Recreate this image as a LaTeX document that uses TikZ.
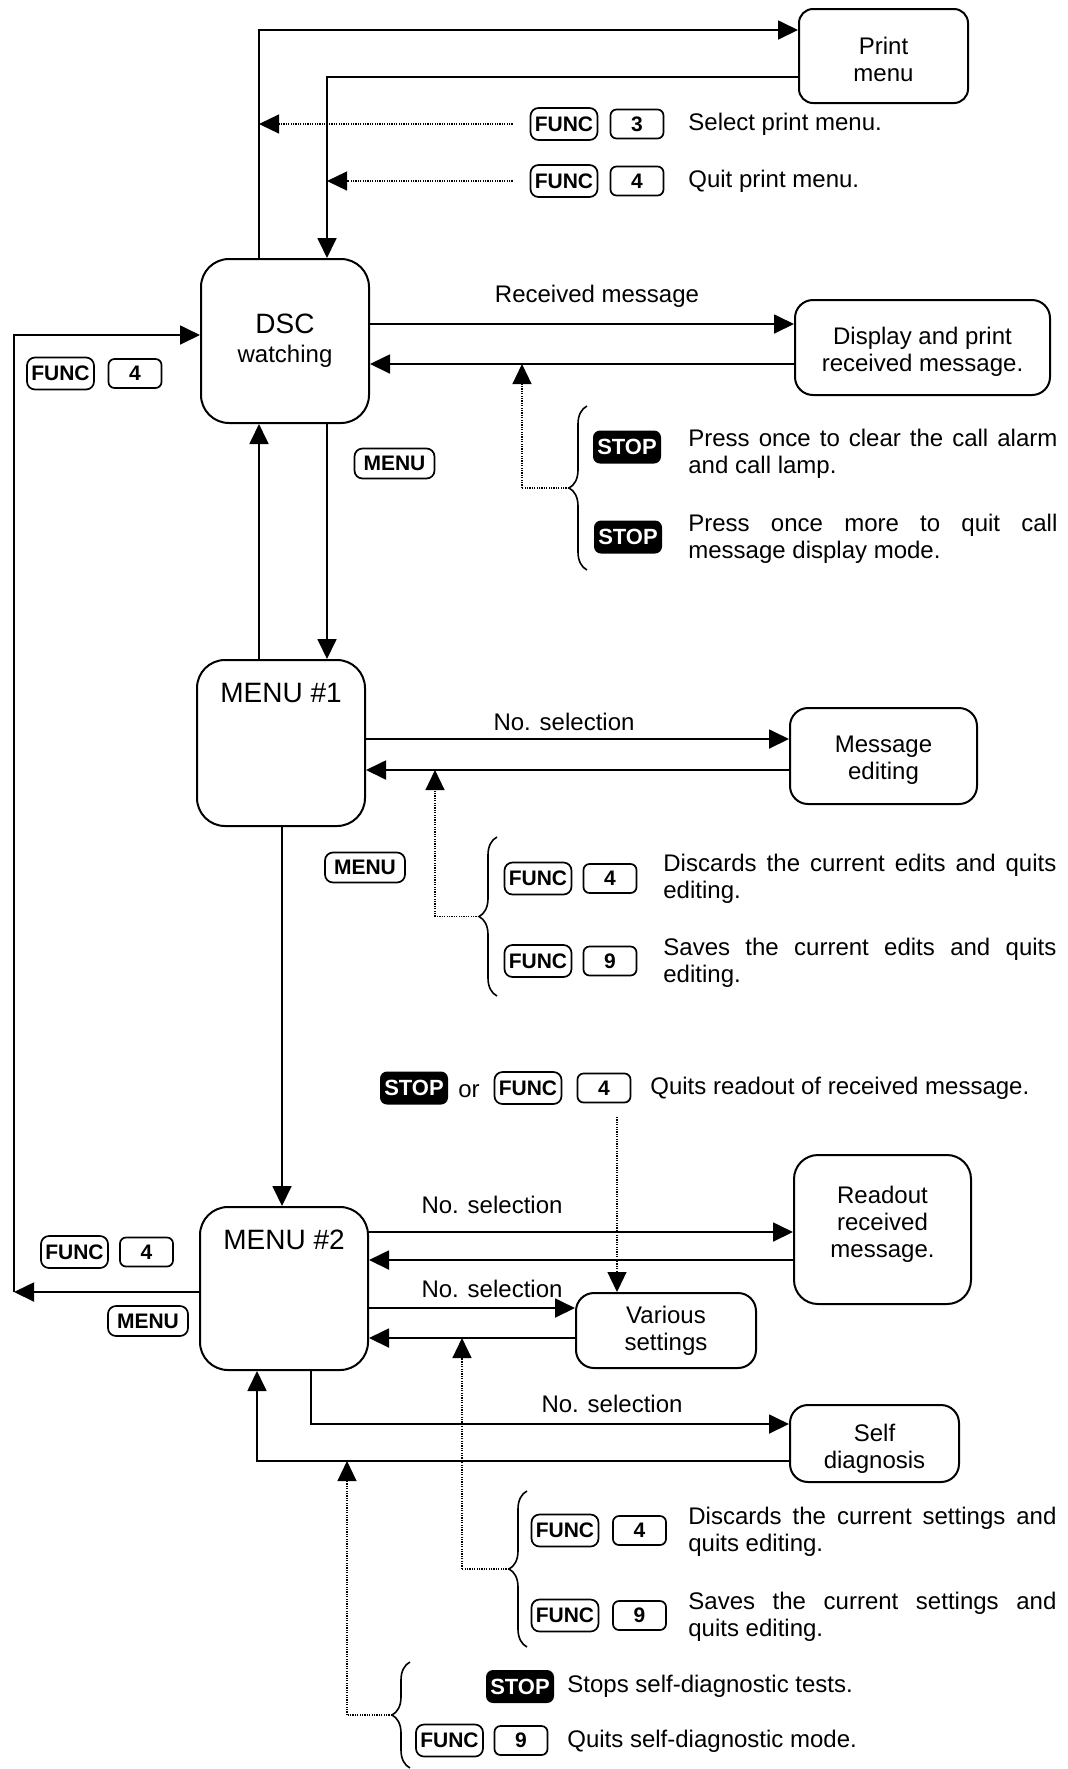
\documentclass[tikz,border=0pt]{standalone}
\usepackage{fontspec}
\setmainfont{Liberation Sans}
\usetikzlibrary{arrows.meta,decorations.pathreplacing}
\tikzset{
  box/.style={draw,line width=1pt,rounded corners=#1,inner sep=0pt,align=center},
  box/.default=8pt,
  txt/.style={inner sep=0pt},
  ctxt/.style={inner sep=0pt,align=center},
  ttl/.style={inner sep=0pt,font=\fontsize{14}{16}\selectfont},
  keybase/.style={draw,line width=0.85pt,rounded corners=3pt,inner sep=0pt,
     font=\fontsize{10.5}{10.5}\selectfont\bfseries,minimum height=15pt},
  funckey/.style={keybase,minimum width=33.5pt,minimum height=16pt,rounded corners=4pt},
  numkey/.style={keybase,minimum width=26.5pt,minimum height=14.5pt},
  menukey/.style={keybase,minimum width=40pt,minimum height=15pt,rounded corners=4pt},
  stopkey/.style={fill=black,text=white,rounded corners=3.5pt,inner sep=0pt,
     font=\fontsize{11}{11}\selectfont\bfseries,minimum width=34pt,minimum height=16.5pt},
  arr/.style={line width=0.9pt,-{Triangle[length=10pt,width=9.5pt]}},
  dotarr/.style={line width=0.6pt,dash pattern=on 0.6pt off 0.6pt,-{Triangle[length=10pt,width=9.5pt]}},
  dotln/.style={line width=0.6pt,dash pattern=on 0.6pt off 0.6pt},
  brc/.style={line width=0.8pt,decorate,decoration={brace,amplitude=9pt}},
}
\begin{document}
\begin{tikzpicture}[x=0.5pt,y=-0.5pt,font=\fontsize{12}{13.5}\selectfont]
\useasboundingbox (0,0) rectangle (1067,1769);

% ---------- main boxes ----------
\node[box=7pt,minimum width=84.5pt,minimum height=47pt] (print) at (883.5,56) {};
\node[ctxt] (printT) at ([yshift=-1.5pt]print.center) {Print\\menu};
\node[box=14pt,minimum width=84pt,minimum height=82pt] (dsc) at (285,341)
   {{\fontsize{14}{16}\selectfont DSC}\\[1pt]watching};
\node[box=9pt,minimum width=127.5pt,minimum height=47.5pt] (disp) at (922.5,347.5) {};
\node[ctxt] (dispT) at ([yshift=-2pt]disp.center) {Display and print\\received message.};
\node[box=14pt,minimum width=84pt,minimum height=83pt] (menu1) at (281,743) {};
\node[ttl] (t1) at ([yshift=-17pt]menu1.north) {MENU \#1};
\node[box=9pt,minimum width=93.5pt,minimum height=48pt] (msged) at (883.5,756) {};
\node[ctxt] (msgedT) at ([yshift=-2pt]msged.center) {Message\\editing};
\node[box=14pt,minimum width=84pt,minimum height=81.5pt] (menu2) at (284,1288.5) {};
\node[ttl] (t2) at ([yshift=-17pt]menu2.north) {MENU \#2};
\node[box=12pt,minimum width=88.5pt,minimum height=74.5pt] (readout) at (882.5,1229.5) {};
\node[ctxt] (readoutT) at ([yshift=2.5pt]readout.center) {Readout\\received\\message.};
\node[box=9pt,minimum width=90pt,minimum height=37.5pt] (various) at (666,1330.5) {Various\\settings};
\node[box=9pt,minimum width=84.5pt,minimum height=38.5pt] (selfd) at (874.5,1443.5) {};
\node[ctxt] (selfdT) at ([yshift=-2.5pt]selfd.center) {Self\\diagnosis};

% ---------- helper coordinates ----------
\coordinate (xA) at (259,0);
\coordinate (xB) at (327,0);
\coordinate (yTop) at (0,30);
\coordinate (yRet) at (0,77);

% ---------- print menu ----------
\draw[arr] (xA |- dsc.north) -- (xA |- yTop) -- (print.west |- yTop);
\draw[arr] (print.west |- yRet) -- (xB |- yRet) -- (xB |- dsc.north);

\node[funckey] (f3) at (564,124) {FUNC};
\node[numkey] (n3) at (637,124) {3};
\node[txt,anchor=west] (tsel) at (688,124) {Select print menu.};
\draw[dotarr] ([xshift=-8.5pt]f3.west) -- (xA |- f3.west);

\node[funckey] (f4a) at (564,181) {FUNC};
\node[numkey] (n4a) at (637,181) {4};
\node[txt,anchor=west] (tquit) at (688,181) {Quit print menu.};
\draw[dotarr] ([xshift=-8.5pt]f4a.west) -- (xB |- f4a.west);

% ---------- received message ----------
\coordinate (yRM) at (0,324);
\coordinate (yRMr) at (0,364);
\draw[arr] (dsc.east |- yRM) -- (disp.west |- yRM);
\node[txt] (lrm) at (597,296) {Received message};
\draw[arr] (disp.west |- yRMr) -- (dsc.east |- yRMr);

\draw[brc] (587,570) -- (587,406);
\coordinate (bt1) at (569,488);
\coordinate (d1) at (522,488);
\draw[dotln] (bt1) -- (d1);
\draw[dotarr] (d1) -- (d1 |- yRMr);

\node[stopkey] (s1) at (627,447) {STOP};
\node[stopkey] (s2) at (628,537) {STOP};
\node[txt,anchor=west,align=left] (tp1) at (688,454)
  {\makebox[184.5pt][s]{Press once to clear the call alarm}\\and call lamp.};
\node[txt,anchor=west,align=left] (tp2) at (688,539)
  {\makebox[184.5pt][s]{Press once more to quit call}\\message display mode.};

\node[menukey] (mk1) at (394.5,463.5) {MENU};

\node[funckey] (fl1) at (60.5,373.5) {FUNC};
\node[numkey] (nl1) at (135,373.5) {4};

% ---------- DSC <-> MENU1 ----------
\draw[arr] (xA |- menu1.north) -- (xA |- dsc.south);
\draw[arr] (xB |- dsc.south) -- (xB |- menu1.north);

% ---------- MENU1 ----------
\coordinate (yN1) at (0,739);
\coordinate (yN1r) at (0,770);
\draw[arr] (menu1.east |- yN1) -- (msged.west |- yN1);
\node[txt] (ln1) at (564,722) {No. selection};
\draw[arr] (msged.west |- yN1r) -- (menu1.east |- yN1r);

\draw[brc] (497,996) -- (497,837);
\coordinate (bt2) at (479,916.5);
\coordinate (d2) at (435,916.5);
\draw[dotln] (bt2) -- (d2);
\draw[dotarr] (d2) -- (d2 |- yN1r);

\node[funckey] (f42) at (538,878.5) {FUNC};
\node[numkey] (n42) at (610,878.5) {4};
\node[txt,anchor=west,align=left] (te1) at (663,879)
  {\makebox[196.5pt][s]{Discards the current edits and quits}\\editing.};
\node[funckey] (f92) at (538,961) {FUNC};
\node[numkey] (n92) at (610,961) {9};
\node[txt,anchor=west,align=left] (te2) at (663,963)
  {\makebox[196.5pt][s]{Saves the current edits and quits}\\editing.};

\node[menukey] (mk2) at (365,867.5) {MENU};

% ---------- MENU1 -> MENU2 ----------
\coordinate (xM) at (282,0);
\draw[arr] (xM |- menu1.south) -- (xM |- menu2.north);

% ---------- readout quit ----------
\node[stopkey] (s3) at (414,1088) {STOP};
\node[txt] (tor) at (469,1091) {or};
\node[funckey] (f43) at (528,1088) {FUNC};
\node[numkey] (n43) at (604,1088) {4};
\node[txt,anchor=west] (tqr) at (650,1088) {Quits readout of received message.};
\coordinate (d3) at (617,1117);
\draw[dotarr] (d3) -- (d3 |- various.north);

% ---------- MENU2 right ----------
\coordinate (yR1) at (0,1232);
\coordinate (yR1r) at (0,1260);
\draw[arr] (menu2.east |- yR1) -- (readout.west |- yR1);
\node[txt] (ln2) at (492,1205) {No. selection};
\draw[arr] (readout.west |- yR1r) -- (menu2.east |- yR1r);

\coordinate (yV) at (0,1308);
\coordinate (yVr) at (0,1338);
\draw[arr] (menu2.east |- yV) -- (various.west |- yV);
\node[txt] (ln3) at (492,1289) {No. selection};
\draw[arr] (various.west |- yVr) -- (menu2.east |- yVr);

\draw[brc] (527,1647) -- (527,1491);
\coordinate (bt3) at (509,1569);
\coordinate (d5) at (462,1569);
\draw[dotln] (bt3) -- (d5);
\draw[dotarr] (d5) -- (d5 |- yVr);

\node[funckey] (f44) at (565,1530.5) {FUNC};
\node[numkey] (n44) at (639.5,1530.5) {4};
\node[txt,anchor=west,align=left] (ts1) at (688,1532)
  {\makebox[184pt][s]{Discards the current settings and}\\quits editing.};
\node[funckey] (f94) at (565,1615.5) {FUNC};
\node[numkey] (n94) at (639.5,1615.5) {9};
\node[txt,anchor=west,align=left] (ts2) at (688,1617)
  {\makebox[184pt][s]{Saves the current settings and}\\quits editing.};

% ---------- MENU2 left ----------
\coordinate (xL) at (14,0);
\coordinate (yL) at (0,1292);
\coordinate (yD) at (0,335);
\draw[arr] (menu2.west |- yL) -- (xL |- yL);
\draw[arr] (xL |- yL) -- (xL |- yD) -- (dsc.west |- yD);
\node[funckey] (fl2) at (74.5,1252) {FUNC};
\node[numkey] (nl2) at (146.5,1252) {4};
\node[menukey] (mk3) at (148,1321) {MENU};

% ---------- MENU2 bottom ----------
\coordinate (xC) at (311,0);
\coordinate (xD) at (257,0);
\coordinate (yS) at (0,1424);
\coordinate (ySr) at (0,1461);
\draw[arr] (xC |- menu2.south) -- (xC |- yS) -- (selfd.west |- yS);
\node[txt] (ln4) at (612,1404) {No. selection};
\draw[arr] (selfd.west |- ySr) -- (xD |- ySr) -- (xD |- menu2.south);

\draw[brc] (410,1768) -- (410,1662);
\coordinate (bt4) at (392,1715);
\coordinate (d6) at (347,1715);
\draw[dotln] (bt4) -- (d6);
\draw[dotarr] (d6) -- (d6 |- ySr);

\node[stopkey] (s4) at (520,1686.5) {STOP};
\node[txt,anchor=west] (tsd1) at (567,1686) {Stops self-diagnostic tests.};
\node[funckey] (f9b) at (449.5,1740.5) {FUNC};
\node[numkey] (n9b) at (521,1740.5) {9};
\node[txt,anchor=west] (tsd2) at (567,1741) {Quits self-diagnostic mode.};
\end{tikzpicture}
\end{document}
